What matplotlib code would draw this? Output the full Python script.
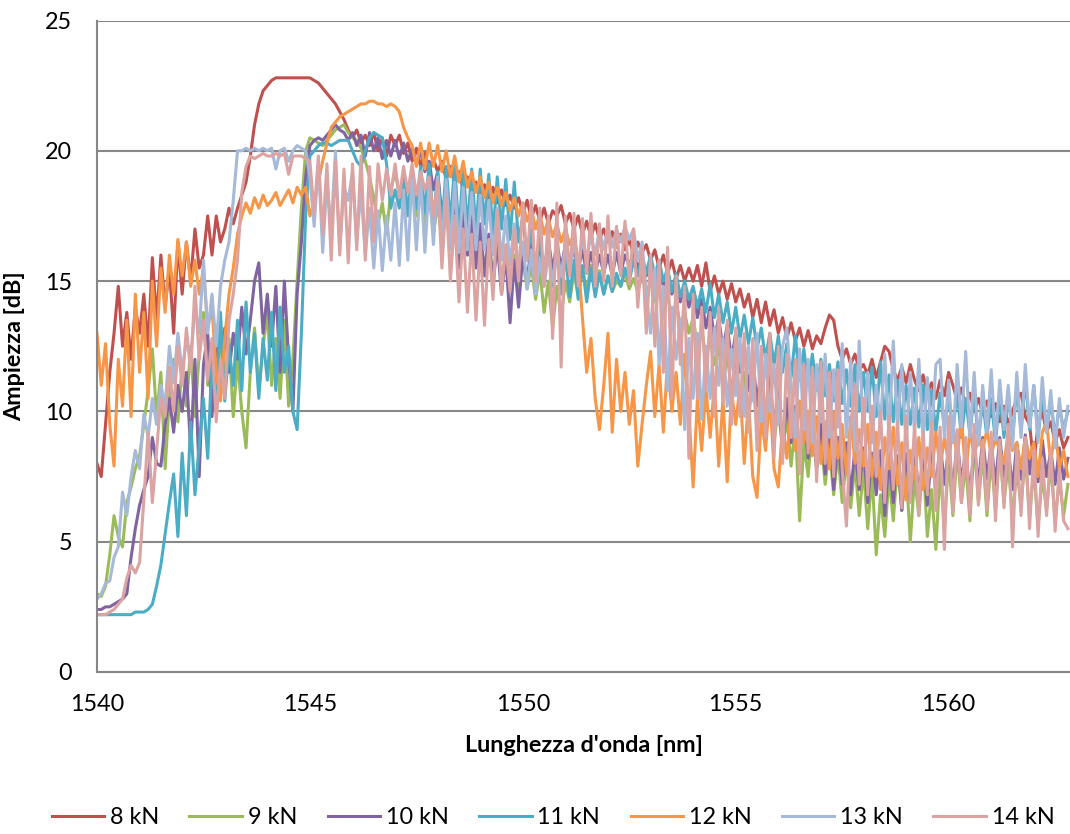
import matplotlib
matplotlib.use("Agg")
import matplotlib.pyplot as plt
import numpy as np

plt.rcParams['font.family'] = ['Lato', 'DejaVu Sans']

labels = ["8 kN", "9 kN", "10 kN", "11 kN", "12 kN", "13 kN", "14 kN"]
colors = ["#C0504D", "#9BBB59", "#8064A2", "#4BACC6", "#F79646", "#A6B9D9", "#DBA3A1"]
wl_start = 1540.0
wl_step = 0.1

kn8 = [
    8.0, 7.5, 9.5, 11.5, 13.0, 14.8, 12.5, 13.8, 12.0, 14.0,
    13.0, 14.5, 12.5, 15.9, 13.5, 16.0, 14.0, 15.5, 13.0, 16.5,
    14.5, 16.5, 15.0, 17.0, 15.5, 16.0, 17.5, 16.0, 17.5, 16.5,
    17.0, 17.8, 17.2, 17.8, 18.3, 18.8, 19.8, 21.0, 21.8, 22.3,
    22.5, 22.7, 22.8, 22.8, 22.8, 22.8, 22.8, 22.8, 22.8, 22.8,
    22.8, 22.7, 22.6, 22.4, 22.2, 22.0, 21.8, 21.5, 21.2, 20.8,
    20.5, 20.8, 20.3, 20.6, 20.2, 20.7, 20.0, 20.5, 19.8, 20.6,
    20.2, 20.6, 19.9, 20.3, 19.6, 20.1, 19.4, 19.9, 19.3, 19.7,
    19.2, 19.6, 18.9, 19.4, 18.7, 19.2, 18.5, 19.0, 18.4, 18.8,
    18.3, 18.7, 18.1, 18.6, 18.0, 18.5, 17.9, 18.3, 17.8, 18.2,
    17.6, 18.1, 17.4, 17.9, 17.3, 17.8, 17.2, 17.7, 17.5, 17.9,
    17.2, 17.6, 17.0, 17.5, 16.8, 17.3, 16.7, 17.2, 16.6, 17.0,
    16.5, 16.9, 16.3, 16.8, 16.2, 16.6, 16.0, 16.5, 16.1, 16.4,
    15.8, 16.2, 15.5, 16.0, 15.3, 15.8, 15.1, 15.6, 15.0, 15.5,
    15.0, 15.6, 14.8, 15.7, 14.6, 15.2, 14.5, 15.0, 14.3, 14.9,
    14.2, 14.7, 14.0, 14.5, 13.6, 14.3, 13.4, 14.2, 13.3, 13.9,
    13.0, 13.6, 12.8, 13.4, 12.7, 13.2, 12.5, 13.1, 12.4, 12.9,
    12.6, 13.2, 13.7, 13.5, 12.5, 12.0, 12.4, 11.8, 12.2, 11.6,
    11.8, 11.4, 12.0, 11.3, 11.9, 12.5, 12.3, 11.6, 11.2, 11.7,
    11.1, 11.8, 11.2, 10.8, 11.4, 10.7, 11.1, 10.5, 11.2, 10.6,
    11.5, 11.0, 10.4, 10.9, 10.2, 10.7, 10.0, 10.5, 9.9, 10.4,
    9.8, 10.3, 9.6, 10.2, 9.5, 10.0, 10.5, 10.7, 9.8, 9.5,
    8.0, 9.5, 10.0, 9.2, 9.6, 8.8, 9.3, 8.6, 9.0,
]

kn9 = [
    3.0, 2.9, 3.3, 4.5, 6.0, 5.2, 4.8, 6.5, 7.1, 7.8,
    8.3, 9.5, 10.8, 12.4, 9.8, 11.5, 7.8, 10.5, 12.0, 9.6,
    11.8, 10.2, 12.5, 9.8, 12.2, 13.8, 11.0, 12.6, 10.4, 13.0,
    11.2, 12.8, 9.8, 12.0, 10.0, 8.6, 11.5, 13.2, 10.8, 12.5,
    13.8, 11.0, 12.8, 10.5, 13.5, 10.2, 12.0, 15.0, 17.8, 20.0,
    20.5, 20.4, 20.3, 20.2, 20.4, 20.6, 20.8, 20.9, 21.0, 20.7,
    20.5, 20.4, 20.1, 19.6, 19.0, 18.2, 17.2, 18.0, 16.8, 18.5,
    19.2, 18.3, 19.0, 17.8, 18.8, 17.5, 18.5, 17.2, 18.3, 16.8,
    18.0, 16.5, 17.8, 16.2, 17.5, 15.9, 17.3, 16.0, 17.0, 15.6,
    16.8, 15.4, 16.6, 15.2, 16.4, 15.0, 16.2, 14.9, 16.0, 14.8,
    15.8, 14.7, 15.6, 14.3, 15.4, 13.8, 15.0, 13.2, 14.8, 13.6,
    15.0, 14.2, 15.3, 14.5, 15.5, 14.6, 15.6, 14.8, 15.4, 14.5,
    15.2, 14.6, 15.0, 14.8, 15.3, 14.7, 15.1, 14.6, 15.2, 14.5,
    15.0, 14.2, 14.8, 13.8, 14.5, 13.5, 14.2, 13.3, 13.8, 13.0,
    13.6, 12.5, 13.2, 12.0, 12.8, 11.8, 12.5, 11.0, 12.2, 10.8,
    11.8, 10.5, 11.5, 9.8, 11.2, 9.4, 10.8, 9.2, 10.5, 8.8,
    10.2, 8.5, 9.8, 7.9, 9.5, 5.8, 8.8, 7.5, 9.4, 7.8,
    9.0, 7.2, 8.6, 6.8, 8.4, 6.5, 8.2, 6.3, 8.0, 6.0,
    7.8, 5.5, 7.6, 4.5, 6.8, 5.2, 7.5, 5.8, 8.0, 6.2,
    7.8, 5.0, 7.5, 6.0, 8.2, 5.2, 7.0, 4.7, 7.8, 5.5,
    8.2, 6.0, 8.5, 6.5, 8.0, 5.8, 8.8, 6.5, 8.4, 6.0,
    8.2, 6.3, 8.6, 6.5, 8.0, 5.9, 7.8, 6.4, 8.3, 6.0,
    7.8, 5.6, 7.5, 6.2, 8.0, 5.8, 7.4, 6.0, 7.2,
]

kn10 = [
    2.4, 2.4, 2.5, 2.5, 2.6, 2.7, 2.8, 3.0, 4.4, 5.5,
    6.4, 7.0, 7.5, 9.0, 8.0, 7.9, 9.5, 10.5, 9.2, 11.0,
    10.0, 11.5, 8.5, 12.0, 7.5, 11.8, 13.0, 9.8, 12.8, 11.0,
    13.2, 11.5, 13.0, 12.0, 14.0, 12.2, 13.5, 15.0, 15.7, 13.0,
    14.5, 12.5, 14.8, 11.5, 15.0, 12.0, 10.0, 14.5, 16.5, 19.0,
    20.2, 20.4, 20.5, 20.4, 20.6, 20.8, 21.0, 20.8, 20.7, 20.4,
    20.7, 20.2, 20.6, 19.8, 20.7, 20.0, 20.5, 19.7, 20.4, 19.8,
    20.4, 19.7, 20.3, 19.6, 20.1, 19.5, 20.0, 19.2, 19.6, 18.5,
    19.2, 17.5, 18.6, 16.5, 18.0, 15.5, 17.8, 16.0, 17.5, 15.5,
    17.2, 15.2, 16.8, 14.8, 16.5, 14.5, 16.0, 13.4, 15.8, 14.0,
    16.0, 15.0, 16.4, 15.2, 16.5, 15.3, 16.6, 15.4, 16.5, 15.5,
    16.4, 15.5, 16.3, 15.4, 16.2, 15.3, 16.1, 15.3, 16.0, 15.3,
    16.0, 15.2, 16.1, 15.3, 16.0, 15.6, 16.1, 15.5, 15.9, 15.2,
    15.8, 15.0, 15.6, 14.8, 15.4, 14.5, 15.0, 14.2, 14.8, 14.0,
    14.6, 13.6, 14.3, 13.2, 14.0, 12.8, 13.6, 12.4, 13.3, 12.0,
    13.0, 11.5, 12.6, 10.8, 12.2, 10.2, 11.8, 9.6, 11.4, 9.2,
    11.0, 8.4, 10.5, 8.8, 10.2, 8.5, 9.8, 8.2, 9.6, 7.8,
    9.5, 7.6, 9.2, 7.0, 9.0, 7.2, 8.8, 6.8, 8.6, 7.0,
    8.6, 6.5, 8.4, 6.8, 8.5, 6.0, 8.2, 6.5, 8.3, 6.2,
    8.4, 6.6, 8.6, 6.8, 8.2, 6.4, 8.5, 7.0, 8.8, 7.2,
    8.6, 7.0, 8.9, 7.3, 8.5, 6.8, 8.7, 7.2, 9.0, 7.4,
    8.8, 7.2, 9.0, 7.5, 8.6, 7.0, 8.8, 7.4, 9.1, 7.6,
    8.8, 7.3, 8.9, 7.5, 8.5, 7.2, 8.6, 7.4, 8.2,
]

kn11 = [
    2.2, 2.2, 2.2, 2.2, 2.2, 2.2, 2.2, 2.2, 2.2, 2.3,
    2.3, 2.3, 2.4, 2.6, 3.3, 4.1, 5.3, 6.5, 7.6, 5.2,
    8.4, 6.0, 9.6, 6.8, 8.7, 10.5, 8.2, 12.0, 10.0, 13.8,
    10.4, 12.5, 11.0, 13.5, 10.8, 14.2, 11.5, 13.0, 10.5, 12.8,
    11.2, 13.8, 10.8, 14.0, 11.5, 12.5, 10.0, 9.3, 13.0, 17.5,
    19.8, 20.0, 20.2, 20.3, 20.3, 20.2, 20.3, 20.4, 20.4, 20.4,
    20.0, 19.6, 19.4, 20.0, 20.5, 20.7, 20.6, 20.5, 19.5, 17.8,
    18.5, 17.8, 19.0, 17.5, 19.3, 17.8, 19.4, 17.6, 19.5, 17.2,
    19.2, 17.0, 19.4, 17.2, 19.5, 16.8, 19.4, 17.0, 19.3, 16.9,
    19.3, 17.2, 19.1, 16.8, 19.0, 17.0, 18.9, 16.6, 18.8, 16.5,
    17.5, 15.8, 17.0, 15.3, 16.8, 15.0, 16.5, 14.8, 16.2, 14.5,
    16.0, 14.4, 15.8, 14.3, 15.6, 14.2, 15.5, 14.4, 15.3, 14.5,
    15.2, 14.6, 15.3, 14.8, 15.5, 15.0, 15.8, 15.2, 16.0, 15.3,
    16.0, 15.2, 15.8, 15.0, 15.5, 14.6, 15.3, 14.4, 15.0, 14.3,
    14.8, 14.0, 14.7, 13.8, 14.9, 13.6, 14.5, 13.4, 14.2, 13.0,
    14.0, 12.8, 13.7, 12.6, 13.6, 12.4, 13.2, 12.0, 13.0, 11.8,
    12.9, 11.5, 12.6, 11.3, 12.9, 11.2, 12.4, 11.0, 12.2, 10.8,
    12.0, 10.6, 11.8, 10.4, 11.9, 10.3, 11.6, 10.2, 11.8, 10.0,
    11.5, 10.0, 11.7, 9.8, 11.9, 9.7, 11.4, 9.6, 11.2, 9.5,
    11.0, 9.5, 10.9, 9.4, 11.0, 9.3, 10.8, 9.2, 10.7, 9.4,
    10.6, 9.2, 10.8, 9.0, 10.5, 9.1, 10.7, 8.9, 10.4, 9.0,
    10.5, 8.8, 10.6, 9.0, 10.8, 8.9, 11.0, 9.2, 11.3, 9.3,
    11.0, 9.0, 10.6, 9.2, 10.4, 9.0, 10.2, 9.3, 10.0,
]

kn12 = [
    13.0, 11.0, 12.6, 9.5, 7.9, 12.0, 10.2, 13.5, 9.8, 14.5,
    11.5, 13.8, 10.5, 15.0, 12.5, 15.5, 13.8, 16.0, 14.5, 16.6,
    15.2, 16.5, 14.8, 15.8, 14.5, 15.5, 13.2, 14.0, 11.5, 10.4,
    12.8, 14.5, 15.5, 16.8, 17.5, 18.0, 17.6, 18.2, 17.8, 18.3,
    17.9, 18.1, 18.4, 17.9, 18.2, 18.5, 18.0, 18.6, 18.3, 18.6,
    17.5, 18.0, 18.8, 19.6, 20.3, 20.9, 21.1, 21.3, 21.4, 21.5,
    21.6, 21.7, 21.8, 21.8, 21.9, 21.9, 21.8, 21.8, 21.7, 21.8,
    21.7, 21.5, 20.9, 20.5, 20.2, 19.4, 20.3, 19.3, 20.3, 19.4,
    20.2, 19.2, 20.0, 19.0, 19.8, 18.8, 19.6, 18.6, 19.2, 18.4,
    19.0, 18.2, 18.8, 18.0, 18.6, 17.9, 18.4, 17.7, 18.2, 17.5,
    18.0, 17.3, 17.8, 17.0, 17.6, 16.8, 17.4, 16.7, 17.2, 16.5,
    17.0, 16.4, 16.8, 15.8, 13.6, 11.5, 12.8, 10.5, 9.3, 11.0,
    13.0, 9.2, 12.0, 10.0, 11.5, 9.5, 10.8, 7.9, 9.5, 11.0,
    12.3, 9.8, 11.8, 9.2, 12.0, 10.0, 11.5, 9.5, 12.2, 10.0,
    7.1, 10.5, 8.5, 10.9, 9.0, 11.1, 7.9, 10.5, 7.3, 10.8,
    9.5, 11.0, 8.0, 10.5, 7.5, 6.7, 9.8, 8.5, 10.6, 7.8,
    7.1, 9.5, 8.2, 10.2, 8.5, 10.4, 8.8, 10.0, 8.3, 9.8,
    8.0, 9.6, 7.8, 10.0, 8.2, 9.5, 7.6, 9.8, 8.0, 9.3,
    7.9, 9.5, 7.5, 9.2, 7.0, 9.0, 7.8, 9.4, 7.2, 8.8,
    6.6, 8.5, 7.4, 9.0, 7.0, 8.6, 7.5, 9.2, 7.8, 9.0,
    8.0, 9.5, 8.2, 9.8, 7.5, 9.3, 8.3, 9.0, 8.5, 9.3,
    8.3, 9.0, 8.5, 8.0, 9.2, 8.5, 8.8, 7.8, 9.0, 8.2,
    8.8, 7.5, 9.2, 9.6, 8.0, 9.4, 7.8, 8.5, 7.5,
]

kn13 = [
    2.8, 3.0, 3.4, 3.5, 4.4, 4.8, 6.9, 6.0, 7.5, 8.5,
    7.8, 9.9, 9.0, 10.5, 9.5, 11.0, 10.2, 12.5, 11.1, 13.0,
    11.5, 12.8, 12.0, 14.0, 13.0, 15.8, 13.0, 14.5, 12.5, 14.8,
    15.8, 16.5, 18.1, 20.0, 20.0, 20.1, 20.0, 20.1, 20.0, 20.1,
    20.0, 20.1, 19.3, 20.0, 20.1, 19.6, 20.0, 20.2, 20.1, 20.0,
    19.0, 17.1, 19.6, 16.1, 18.8, 17.0, 20.0, 16.2, 18.6, 18.1,
    19.2, 16.5, 18.5, 16.0, 17.8, 15.5, 17.7, 15.4, 17.5, 15.8,
    18.0, 15.6, 18.5, 15.8, 19.1, 16.2, 19.0, 16.1, 18.8, 16.4,
    19.0, 16.3, 18.9, 16.2, 18.8, 16.1, 18.6, 16.2, 18.4, 16.2,
    18.3, 16.2, 18.1, 16.0, 17.8, 15.8, 17.5, 15.6, 17.2, 15.5,
    16.5, 14.7, 16.2, 14.5, 15.8, 14.8, 16.0, 15.0, 16.2, 15.2,
    16.4, 15.3, 16.5, 15.5, 16.6, 15.8, 16.8, 16.0, 17.0, 16.2,
    17.1, 16.3, 17.0, 16.5, 17.1, 16.6, 17.0, 15.8, 16.5, 14.5,
    13.0, 15.5, 11.8, 14.8, 10.8, 14.0, 12.0, 13.5, 9.3, 12.8,
    10.5, 13.0, 9.7, 12.5, 10.5, 13.2, 11.0, 12.8, 10.2, 12.4,
    10.6, 12.8, 9.8, 12.5, 10.4, 13.0, 9.6, 12.2, 10.0, 11.8,
    9.5, 12.5, 13.2, 11.0, 9.0, 12.4, 9.3, 12.0, 8.8, 11.8,
    9.6, 12.2, 9.0, 11.6, 9.4, 12.6, 9.0, 12.0, 8.5, 12.7,
    9.2, 11.5, 8.8, 11.0, 9.5, 12.2, 9.0, 12.7, 9.3, 11.8,
    8.7, 11.5, 9.2, 12.0, 8.9, 11.3, 9.0, 11.8, 12.0, 9.0,
    11.2, 8.8, 11.8, 9.4, 12.3, 9.0, 11.5, 8.7, 11.0, 9.2,
    11.6, 8.9, 11.2, 9.3, 11.0, 8.6, 11.5, 9.0, 11.8, 9.4,
    11.0, 8.8, 11.3, 9.2, 10.8, 8.6, 10.5, 9.0, 10.2,
]

kn14 = [
    2.2, 2.2, 2.2, 2.3, 2.4, 2.6, 2.8, 3.6, 4.1, 3.8,
    4.2, 6.6, 9.2, 6.5, 8.5, 10.5, 9.8, 11.7, 10.0, 12.5,
    11.0, 13.2, 11.5, 14.8, 12.0, 13.5, 11.2, 12.8, 9.6, 12.0,
    10.5, 13.5, 14.5, 15.8, 18.4, 19.4, 19.8, 19.7, 19.8, 19.9,
    19.8, 19.8, 19.9, 19.8, 19.9, 19.1, 19.8, 19.8, 19.8, 19.7,
    19.6, 17.6, 19.8, 16.8, 19.5, 15.8, 19.6, 16.0, 19.3, 15.7,
    19.5, 16.2, 19.8, 15.8, 19.4, 16.5, 19.5, 18.1, 19.3, 18.3,
    19.5, 18.2, 19.4, 18.4, 19.5, 18.3, 19.2, 18.5, 19.0, 17.5,
    18.8, 15.5, 18.2, 15.0, 17.5, 14.2, 17.0, 13.8, 16.8, 13.5,
    16.5, 13.3, 16.6, 14.3, 17.7, 14.5, 16.4, 14.6, 17.0, 15.0,
    18.0, 15.8, 18.1, 15.0, 17.8, 14.8, 17.5, 12.8, 18.0, 11.7,
    17.5, 15.2, 17.6, 14.8, 17.4, 15.3, 17.6, 14.8, 17.2, 15.0,
    17.5, 14.8, 17.1, 15.2, 17.3, 14.9, 17.0, 14.0, 16.3, 13.0,
    16.0, 12.5, 15.8, 11.5, 16.3, 10.5, 15.2, 11.8, 14.8, 8.2,
    14.5, 10.5, 14.0, 10.8, 13.8, 9.8, 14.0, 10.3, 13.5, 9.5,
    13.2, 9.8, 13.0, 9.2, 12.8, 8.5, 12.5, 9.0, 13.0, 8.2,
    12.5, 8.0, 12.2, 9.0, 12.0, 7.6, 11.8, 8.4, 11.7, 7.3,
    11.9, 8.0, 11.5, 7.5, 11.6, 7.8, 5.6, 9.5, 11.0, 7.2,
    10.5, 6.8, 10.2, 7.5, 10.0, 6.5, 9.8, 7.0, 9.6, 6.3,
    9.8, 6.5, 9.5, 6.0, 9.2, 6.8, 9.6, 6.2, 9.4, 4.7,
    9.8, 6.1, 9.3, 6.5, 9.0, 6.0, 9.5, 6.4, 8.9, 6.2,
    9.2, 5.8, 8.9, 6.3, 9.5, 4.8, 8.6, 6.0, 9.0, 5.5,
    8.5, 5.2, 8.2, 6.0, 8.6, 5.4, 7.8, 5.8, 5.5,
]

x_ticks = [1540, 1545, 1550, 1555, 1560]
y_ticks = [0, 5, 10, 15, 20, 25]

series = [kn8, kn9, kn10, kn11, kn12, kn13, kn14]

W, H = 1070, 834
fig = plt.figure(figsize=(W / 100, H / 100), dpi=100)
ax = fig.add_axes([97 / W, 1 - 672 / H, (W - 97) / W, (672 - 20.5) / H])

for vals, lab, col in zip(series, labels, colors):
    v = np.asarray(vals, dtype=float)
    wl = wl_start + wl_step * np.arange(len(v))
    ax.plot(wl, v, color=col, lw=2.2, label=lab, solid_joinstyle='round')

ax.set_xlim(1540, 1562.85)
ax.set_ylim(0, 25)
ax.set_xticks(x_ticks)
ax.set_yticks(y_ticks)
ax.set_xticklabels([str(t) for t in x_ticks])
ax.set_yticklabels([str(t) for t in y_ticks])
ax.grid(axis='y', color='#878787', lw=1.5)
ax.grid(axis='x', visible=False)
ax.set_axisbelow(True)
for s in ['top', 'right']:
    ax.spines[s].set_visible(False)
for s in ['left', 'bottom']:
    ax.spines[s].set_color('#878787')
    ax.spines[s].set_linewidth(1.5)
ax.tick_params(axis='both', length=0, labelsize=16.8, colors='black')
ax.tick_params(axis='y', pad=18)
ax.tick_params(axis='x', pad=16)

ax.set_xlabel("Lunghezza d'onda [nm]", fontsize=16.8, fontweight='bold', labelpad=14)
ax.set_ylabel("Ampiezza [dB]", fontsize=16.8, fontweight='bold', labelpad=14)

fig.legend(loc='center', bbox_to_anchor=(553 / W, 1 - 818 / H), ncol=7,
           frameon=False, fontsize=16.8, handlelength=2.25, handletextpad=0.25,
           columnspacing=1.3)

fig.savefig("out.png", dpi=100)
